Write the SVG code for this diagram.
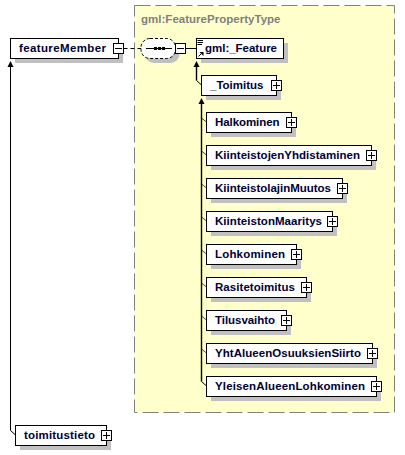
<svg xmlns="http://www.w3.org/2000/svg" width="405" height="455" viewBox="0 0 405 455">
<style>
.b{fill:#fff;stroke:#000;stroke-width:1}
.s{fill:#c0c0c0}
.t{font:bold 11.500px "Liberation Sans",Arial,sans-serif;fill:#000033}
.p{fill:#fff;stroke:#000;stroke-width:1}
.m{fill:none;stroke:#000;stroke-width:1}
.c{fill:none;stroke:#000;stroke-width:1}
.e{fill:none;stroke:#000;stroke-width:1.400}
.d{fill:none;stroke:#000;stroke-width:.7}
.a{fill:#000}
</style>
<defs>
<g id="plus"><rect class="p" x="-5" y="-5" width="10" height="10"/><path class="m" d="M-3.500 0H3.500M0 -3.500V3.500"/></g>
<g id="minus"><rect class="p" x="-5" y="-5" width="10" height="10"/><path class="m" d="M-3.500 0H3.500"/></g>
</defs>
<g id="container"><rect x="134.5" y="5.5" width="260" height="407" fill="#ffffcc" stroke="#808080" stroke-dasharray="16 5"/><text x="141" y="23" textLength="139.500" style="font:bold 11.500px 'Liberation Sans',Arial,sans-serif;fill:#808080">gml:FeaturePropertyType</text></g>
<g id="connectors">
<path class="c" d="M123.500 48.500H141" stroke-dasharray="4 3"/>
<path class="c" d="M185.500 48.500H196.500"/>
<path class="c" d="M10.500 66V430.500L15.500 435"/>
<path class="e" d="M196.500 66V80.500"/>
<path class="c" d="M196.500 80.500L201.500 85"/>
<path class="e" d="M201.500 103V381.500"/>
<path class="c" d="M201.500 381.500L206.500 386"/>
<path class="d" d="M201.500 118L206.500 122M201.500 151L206.500 155M201.500 184L206.500 188M201.500 217L206.500 221M201.500 250L206.500 254M201.500 283L206.500 287M201.500 316L206.500 320M201.500 349L206.500 353"/>
<path class="a" d="M10.500 61L13.500 67H7.500Z"/>
<path class="a" d="M196.500 61L199.500 67H193.500Z"/>
<path class="a" d="M201.500 98L204.500 104H198.500Z"/>
</g>
<g id="featureMember"><rect class="s" x="15" y="43" width="108" height="20"/><rect class="b" x="10.500" y="38.500" width="108" height="20"/><text class="t" x="19" y="52" textLength="87">featureMember</text><use href="#minus" x="118.500" y="48.500"/></g>
<g id="sequence"><rect x="145" y="43" width="34.500" height="20" rx="9" fill="#c0c0c0"/><rect x="141" y="38.500" width="34.500" height="20" rx="9" fill="#fff" stroke="#000" stroke-dasharray="3 2"/><path class="c" d="M146 48.500H172"/><rect class="a" x="154" y="47" width="3" height="3"/><rect class="a" x="158" y="47" width="3" height="3"/><rect class="a" x="162" y="47" width="3" height="3"/><use href="#minus" x="180.500" y="48.500"/></g>
<g id="gml_Feature"><rect class="s" x="201" y="43" width="87" height="20"/><rect class="b" x="196.500" y="38.500" width="87" height="20"/><path class="m" d="M197.500 40.500H203M197.500 42.500H203M197.500 44.500H202"/><path class="c" d="M198.500 56.500L202 53"/><path class="a" d="M199.500 52H203.500V56Z"/><text class="t" x="205" y="52" textLength="72">gml:_Feature</text></g>
<g id="Toimitus"><rect class="s" x="206" y="80" width="75" height="20"/><rect class="b" x="201.500" y="75.500" width="75" height="20"/><text class="t" x="210" y="89" textLength="53.500">_Toimitus</text><use href="#plus" x="276.500" y="85.500"/></g>
<g id="Halkominen"><rect class="s" x="211" y="117" width="85" height="20"/><rect class="b" x="206.500" y="112.500" width="85" height="20"/><text class="t" x="215" y="126" textLength="64.500">Halkominen</text><use href="#plus" x="291.500" y="122.500"/></g>
<g id="KiinteistojenYhdistaminen"><rect class="s" x="211" y="150" width="165" height="20"/><rect class="b" x="206.500" y="145.500" width="165" height="20"/><text class="t" x="215" y="159" textLength="145">KiinteistojenYhdistaminen</text><use href="#plus" x="371.500" y="155.500"/></g>
<g id="KiinteistolajinMuutos"><rect class="s" x="211" y="183" width="136" height="20"/><rect class="b" x="206.500" y="178.500" width="136" height="20"/><text class="t" x="215" y="192" textLength="116">KiinteistolajinMuutos</text><use href="#plus" x="342.500" y="188.500"/></g>
<g id="KiinteistonMaaritys"><rect class="s" x="211" y="216" width="126" height="20"/><rect class="b" x="206.500" y="211.500" width="126" height="20"/><text class="t" x="215" y="225" textLength="107">KiinteistonMaaritys</text><use href="#plus" x="332.500" y="221.500"/></g>
<g id="Lohkominen"><rect class="s" x="211" y="249" width="90" height="20"/><rect class="b" x="206.500" y="244.500" width="90" height="20"/><text class="t" x="215" y="258" textLength="70">Lohkominen</text><use href="#plus" x="296.500" y="254.500"/></g>
<g id="Rasitetoimitus"><rect class="s" x="211" y="282" width="100" height="20"/><rect class="b" x="206.500" y="277.500" width="100" height="20"/><text class="t" x="215" y="291" textLength="80">Rasitetoimitus</text><use href="#plus" x="306.500" y="287.500"/></g>
<g id="Tilusvaihto"><rect class="s" x="211" y="315" width="80" height="20"/><rect class="b" x="206.500" y="310.500" width="80" height="20"/><text class="t" x="215" y="324" textLength="60">Tilusvaihto</text><use href="#plus" x="286.500" y="320.500"/></g>
<g id="YhtAlueenOsuuksienSiirto"><rect class="s" x="211" y="348" width="166" height="20"/><rect class="b" x="206.500" y="343.500" width="166" height="20"/><text class="t" x="215" y="357" textLength="146">YhtAlueenOsuuksienSiirto</text><use href="#plus" x="372.500" y="353.500"/></g>
<g id="YleisenAlueenLohkominen"><rect class="s" x="211" y="381" width="170" height="20"/><rect class="b" x="206.500" y="376.500" width="170" height="20"/><text class="t" x="215" y="390" textLength="150">YleisenAlueenLohkominen</text><use href="#plus" x="376.500" y="386.500"/></g>
<g id="toimitustieto"><rect class="s" x="20" y="430" width="91" height="20"/><rect class="b" x="15.500" y="425.500" width="91" height="20"/><text class="t" x="24" y="439" textLength="71">toimitustieto</text><use href="#plus" x="106.500" y="435.500"/></g>
</svg>
